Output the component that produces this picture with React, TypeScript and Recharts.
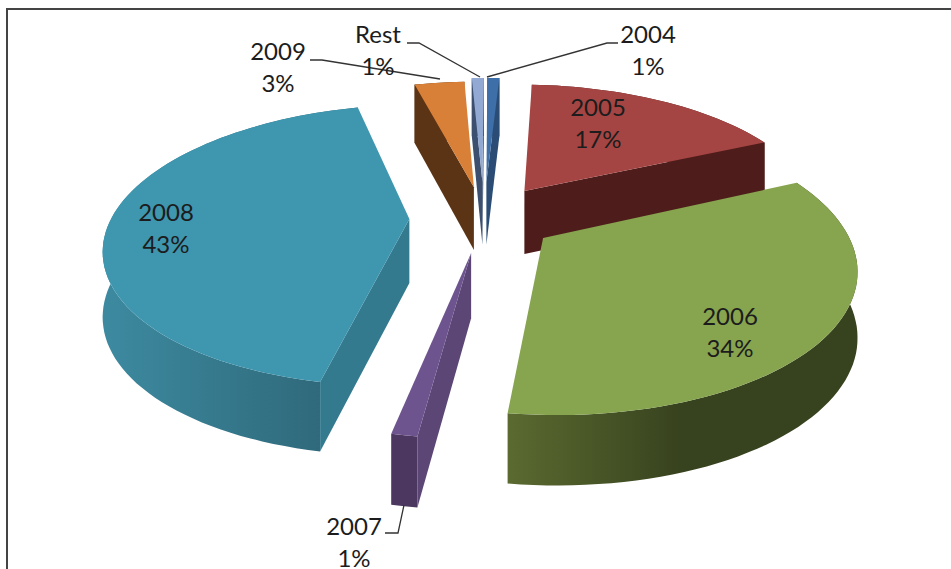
import { PieChart, Pie } from 'recharts';

const years = ['2004', '2005', '2006', '2007', '2008', '2009', 'Rest'];
const shares = [0.8, 17.3, 33.9, 1.1, 42.8, 3.3, 0.8];

// how far each slice is pulled out of the pie, as a fraction of the radius
const explosions = [0.28, 0.25, 0.24, 0.25, 0.25, 0.24, 0.28];
const topColors = ['#3e6fa8', '#a54543', '#87a44f', '#6e548f', '#3f96af', '#d98038', '#92aad3'];
const cutColors = ['#2b4d75', '#4e1d1b', '#36411d', '#5c4675', '#337a8f', '#5b3415', '#3c4f6e'];
const wallLeft = ['#2b4d75', '#4e1d1b', '#5a6a30', '#4b375f', '#3d8aa0', '#5b3415', '#3c4f6e'];
const wallRight = ['#2b4d75', '#4e1d1b', '#37421e', '#4b375f', '#2d6475', '#5b3415', '#3c4f6e'];
// where along the wall the gradient reaches its right colour
const wallEnds = [1, 1, 0.5, 1, 1, 1, 1];

// label centre and leader line for each slice
const labelSpots: Record<string, { x: number; y: number; leader?: string }> = {
  '2004': { x: 648, y: 33, leader: '618,43 607,43 487,77' },
  '2005': { x: 598, y: 106 },
  '2006': { x: 730, y: 315 },
  '2007': { x: 354, y: 525, leader: '385,533 398,533 404,505' },
  '2008': { x: 166, y: 211 },
  '2009': { x: 278, y: 50, leader: '310,60 322,60 440,79' },
  Rest: { x: 378, y: 33, leader: '407,43 419,43 480,77' },
};

const chartData = years.map((name, i) => ({ name, value: shares[i], index: i }));

const TILT = 0.187;
const SQUASH = 0.455;
const DEPTH = 64;

const Slice3D = (props: any) => {
  const { cx, cy, outerRadius, startAngle, endAngle, index } = props;
  const i = index ?? props.payload?.index ?? 0;
  const a0 = 90 - startAngle;
  const a1 = 90 - endAngle;
  const mid = (((a0 + a1) / 2) * Math.PI) / 180;
  const e = explosions[i];
  const ou = e * Math.sin(mid);
  const ov = -e * Math.cos(mid);

  const at = (deg: number, r: number, down: boolean) => {
    const t = (deg * Math.PI) / 180;
    const u = ou + r * Math.sin(t);
    const v = ov - r * Math.cos(t);
    const w = 1 - TILT * v;
    const d = down ? DEPTH / (1 - 0.08 * v) : 0;
    return [cx + (outerRadius * u) / w, cy + (outerRadius * SQUASH * v) / w + d];
  };
  const join = (pts: number[][]) => pts.map((p) => `${p[0].toFixed(1)},${p[1].toFixed(1)}`).join(' ');

  const arc: number[] = [];
  const n = Math.max(2, Math.ceil((a1 - a0) / 2));
  for (let k = 0; k <= n; k++) arc.push(a0 + ((a1 - a0) * k) / n);

  const apex = at(a0, 0, false);
  const inner = at((a0 + a1) / 2, 0.7, false);
  const cutFace = (deg: number) => {
    const edge = at(deg, 1, false);
    const ex = edge[0] - apex[0];
    const ey = edge[1] - apex[1];
    const body = ex * (inner[1] - apex[1]) - ey * (inner[0] - apex[0]);
    if (ex * body > 0) return null;
    return (
      <polygon
        points={join([apex, edge, at(deg, 1, true), at(deg, 0, true)])}
        fill={cutColors[i]}
      />
    );
  };

  const gradId = `wall-${i}`;
  const xs = arc.map((d) => at(d, 1, true)[0]);
  return (
    <g>
      <defs>
        <linearGradient id={gradId} gradientUnits="userSpaceOnUse" x1={Math.min(...xs)} x2={Math.max(...xs)} y1={0} y2={0}>
          <stop offset="0%" stopColor={wallLeft[i]} />
          <stop offset={`${wallEnds[i] * 100}%`} stopColor={wallRight[i]} />
        </linearGradient>
      </defs>
      <polygon
        points={join([...arc.map((d) => at(d, 1, false)), ...[...arc].reverse().map((d) => at(d, 1, true))])}
        fill={`url(#${gradId})`}
      />
      {cutFace(a0)}
      {cutFace(a1)}
      <polygon points={join([apex, ...arc.map((d) => at(d, 1, false))])} fill={topColors[i]} />
    </g>
  );
};

const SliceLabel = (props: any) => {
  const spot = labelSpots[props.name];
  const pct = `${Math.round(props.percent * 100)}%`;
  return (
    <g fontFamily="Lato, sans-serif" fontSize={24} fill="#1c1c1c" textAnchor="middle">
      {spot.leader && <polyline points={spot.leader} fill="none" stroke="#333" strokeWidth={1.3} />}
      <text x={spot.x} y={spot.y} dominantBaseline="central">{props.name}</text>
      <text x={spot.x} y={spot.y + 32} dominantBaseline="central">{pct}</text>
    </g>
  );
};

export default function App() {
  return (
    <div style={{ position: 'absolute', left: 0, top: 0, width: 951, height: 569, overflow: 'hidden', background: '#fff' }}>
      <div style={{ position: 'absolute', left: 6, top: 8, right: -4, bottom: -4, borderLeft: '2px solid #444', borderTop: '2px solid #444' }} />
      <div style={{ position: 'absolute', left: 0, top: 0 }}>
        <PieChart width={951} height={569} margin={{ top: 0, right: 0, bottom: 0, left: 0 }}>
          <Pie
            data={chartData}
            dataKey="value"
            nameKey="name"
            cx={484}
            cy={218}
            outerRadius={298}
            startAngle={89.7}
            endAngle={-270.3}
            stroke="none"
            shape={Slice3D}
            inactiveShape={Slice3D}
            label={SliceLabel}
            labelLine={false}
            isAnimationActive={false}
          />
        </PieChart>
      </div>
    </div>
  );
}
